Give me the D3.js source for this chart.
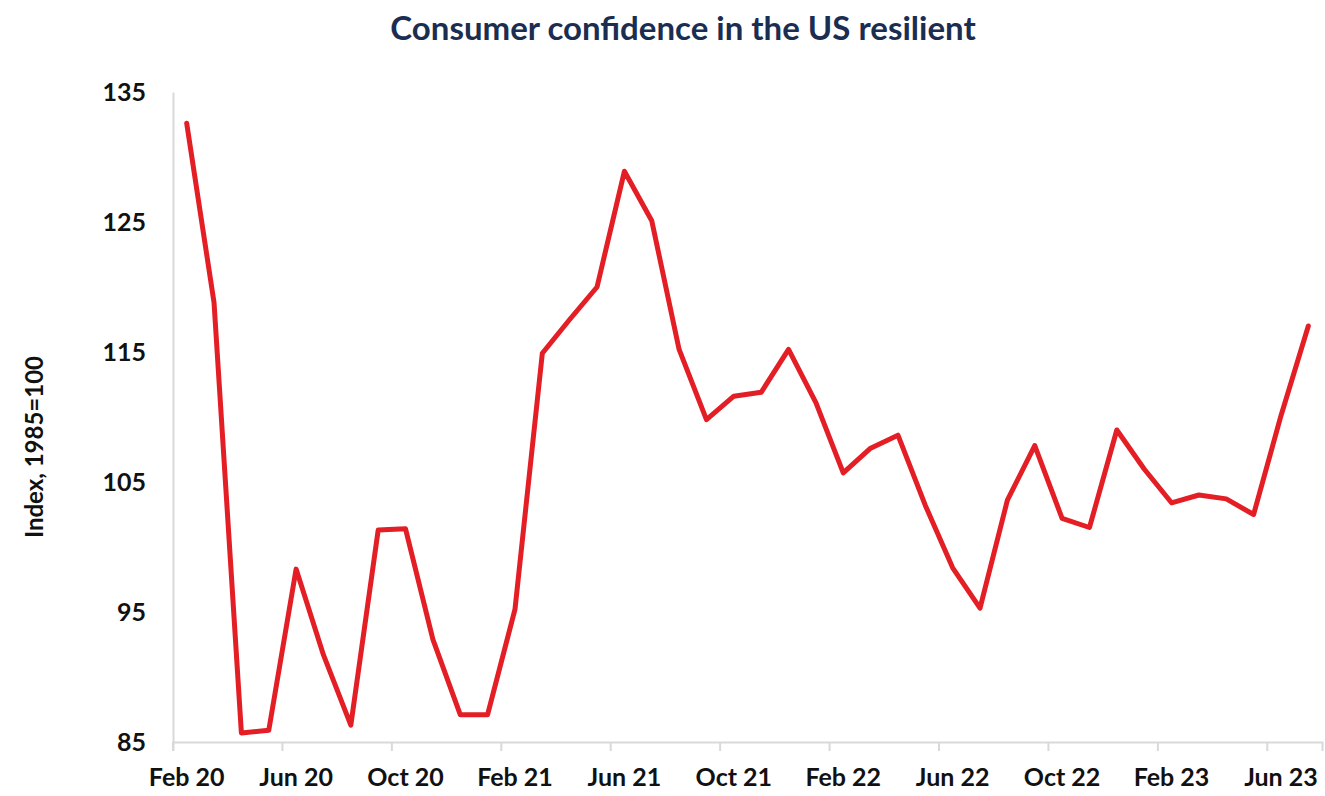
<!DOCTYPE html>
<html>
<head>
<meta charset="utf-8">
<script src="https://cdn.jsdelivr.net/npm/d3@7"></script>
<style>
  body { margin: 0; background: #fff; }
  svg { display: block; }
  svg text { font-family: Lato, "Open Sans", sans-serif; }
</style>
</head>
<body>
<svg id="chart" width="1325" height="796"></svg>
<script>
// months shown on the x axis (one category per month)
const months = [
  'Feb 20', 'Mar 20', 'Apr 20', 'May 20', 'Jun 20', 'Jul 20', 'Aug 20', 'Sep 20', 'Oct 20', 'Nov 20', 'Dec 20',
  'Jan 21', 'Feb 21', 'Mar 21', 'Apr 21', 'May 21', 'Jun 21', 'Jul 21', 'Aug 21', 'Sep 21', 'Oct 21', 'Nov 21', 'Dec 21',
  'Jan 22', 'Feb 22', 'Mar 22', 'Apr 22', 'May 22', 'Jun 22', 'Jul 22', 'Aug 22', 'Sep 22', 'Oct 22', 'Nov 22', 'Dec 22',
  'Jan 23', 'Feb 23', 'Mar 23', 'Apr 23', 'May 23', 'Jun 23', 'Jul 23'
];

// consumer confidence index, 1985=100
const confidence = [
  132.6, 118.8, 85.7, 85.9, 98.3, 91.7, 86.3, 101.3, 101.4, 92.9, 87.1,
  87.1, 95.2, 114.9, 117.5, 120.0, 128.9, 125.1, 115.2, 109.8, 111.6, 111.9, 115.2,
  111.1, 105.7, 107.6, 108.6, 103.2, 98.4, 95.3, 103.6, 107.8, 102.2, 101.5, 109.0,
  106.0, 103.4, 104.0, 103.7, 102.5, 110.1, 117.0
];

const xTicks = ['Feb 20', 'Jun 20', 'Oct 20', 'Feb 21', 'Jun 21', 'Oct 21', 'Feb 22', 'Jun 22', 'Oct 22', 'Feb 23', 'Jun 23'];
const yTicks = [85, 95, 105, 115, 125, 135];

const width = 1325, height = 796;
const margin = { top: 92, right: 3, bottom: 54, left: 173 };
const font = 'Lato, "Open Sans", sans-serif';

const svg = d3.select('#chart');

const x = d3.scaleBand()
  .domain(months)
  .range([margin.left, width - margin.right])
  .padding(0);

const y = d3.scaleLinear()
  .domain([85, 135])
  .range([height - margin.bottom, margin.top]);

// title
svg.append('text')
  .attr('x', 683)
  .attr('y', 40)
  .attr('text-anchor', 'middle')
  .attr('font-size', '33px')
  .attr('font-weight', 700)
  .attr('fill', '#1b2d50')
  .text('Consumer confidence in the US resilient');

// y axis
const yAxis = svg.append('g')
  .attr('transform', `translate(${margin.left},0)`)
  .call(d3.axisLeft(y).tickValues(yTicks).tickSize(0).tickPadding(27));
yAxis.attr('font-family', font);
yAxis.select('.domain').attr('stroke', '#d9d9d9').attr('stroke-width', 2);
yAxis.selectAll('text')
  .attr('font-size', '25px')
  .attr('font-weight', 700)
  .attr('fill', '#111');

// x axis, tick marks sit on the category boundaries
const xAxis = svg.append('g')
  .attr('transform', `translate(0,${height - margin.bottom})`)
  .call(d3.axisBottom(x).tickValues(xTicks).tickSizeOuter(0).tickSize(9).tickPadding(17));
xAxis.attr('font-family', font);
xAxis.select('.domain').attr('stroke', '#d9d9d9').attr('stroke-width', 2);
xAxis.selectAll('.tick line')
  .attr('stroke', '#d9d9d9')
  .attr('stroke-width', 2)
  .attr('x1', -x.bandwidth() / 2)
  .attr('x2', -x.bandwidth() / 2);
xAxis.selectAll('text')
  .attr('font-size', '25px')
  .attr('font-weight', 700)
  .attr('fill', '#111');

// y axis title
svg.append('text')
  .attr('transform', 'translate(43,447) rotate(-90)')
  .attr('text-anchor', 'middle')
  .attr('font-size', '24px')
  .attr('font-weight', 700)
  .attr('fill', '#111')
  .text('Index, 1985=100');

// line
const line = d3.line()
  .x((d, i) => x(months[i]) + x.bandwidth() / 2)
  .y((d) => y(d));

svg.append('path')
  .datum(confidence)
  .attr('fill', 'none')
  .attr('stroke', '#e31e25')
  .attr('stroke-width', 5)
  .attr('stroke-linejoin', 'round')
  .attr('stroke-linecap', 'round')
  .attr('d', line);
</script>
</body>
</html>
